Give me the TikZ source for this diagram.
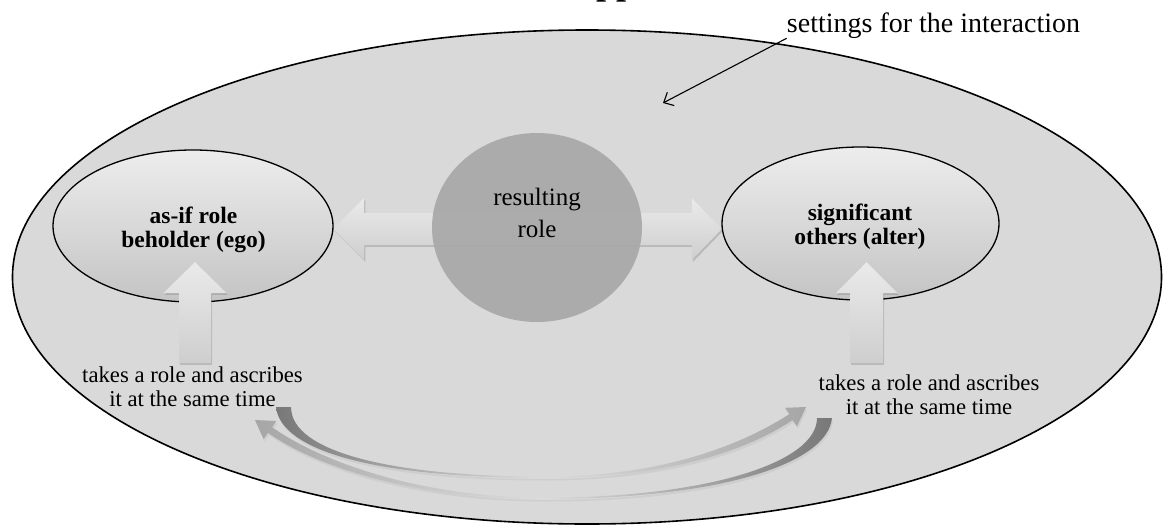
\documentclass[tikz,border=0pt]{standalone}
\usepackage{fontspec}
\setmainfont{Liberation Serif}
\usetikzlibrary{shapes.geometric,shadows,calc,arrows.meta}
\definecolor{bgfill}{HTML}{D9D9D9}
\definecolor{ellTop}{HTML}{EDEDED}
\definecolor{ellBot}{HTML}{C4C4C4}
\definecolor{roleFill}{HTML}{A8A8A8}
\definecolor{arrTop}{HTML}{EAEAEA}
\definecolor{arrBot}{HTML}{CECECE}
\definecolor{curveDark}{HTML}{787878}
\definecolor{curveLight}{HTML}{A6A6A6}
\definecolor{curveMid}{HTML}{DCDCDC}
\tikzset{
  outerell/.style={ellipse, draw=black, line width=1.6pt, fill=bgfill, inner sep=0pt},
  actorell/.style={ellipse, draw=black, line width=1.3pt, top color=ellTop, bottom color=ellBot, inner sep=0pt},
  rolecirc/.style={ellipse, fill=roleFill, fill opacity=0.92, inner sep=0pt},
  boldtxt/.style={font=\fontsize{23.5}{24.5}\selectfont\bfseries, align=center, inner sep=0pt},
  roletxt/.style={font=\fontsize{25}{32}\selectfont, align=center, inner sep=0pt},
  bottxt/.style={font=\fontsize{22.7}{24}\selectfont, align=center, inner sep=0pt},
  settxt/.style={font=\fontsize{28}{30}\selectfont, inner sep=0pt},
  blockarrow/.style={top color=arrTop, bottom color=arrBot, drop shadow={opacity=0.35, shadow xshift=1.2pt, shadow yshift=-1.8pt}},
  curvedarrow/.style={drop shadow={opacity=0.12, shadow xshift=1pt, shadow yshift=-2.5pt}},
  pointer/.style={line width=1.1pt, -{Straight Barb[length=8pt, width=15pt, line width=1.1pt]}}
}
\begin{document}
\begin{tikzpicture}[x=1pt,y=-1pt]
\useasboundingbox (0,0) rectangle (1165,525);
\fill[white] (0,0) rectangle (1165,525);

% cut-off title (only its descenders show)
\node[anchor=base west, font=\fontsize{36}{36}\selectfont\bfseries, inner sep=0pt] (title) at (596,-6) {pp};

% setting ellipse
\node[outerell, minimum width=1149pt, minimum height=494pt] (setting) at (587,277) {};

% actor ellipses (positions needed for arrows)
\path (193,226) coordinate (egoc);
\path (860.5,223.5) coordinate (alterc);
\node[ellipse, minimum width=280pt, minimum height=152pt, inner sep=0pt] (ego) at (egoc) {};
\node[ellipse, minimum width=277pt, minimum height=153pt, inner sep=0pt] (alter) at (alterc) {};

% horizontal double arrow
\coordinate (L) at ($(ego.east)+(0,3)$);
\coordinate (R) at ($(alter.west)+(0,5.5)$);
\path[blockarrow] (L) -- ++(31,-31) -- ++(0,15) -- ($(R)+(-30,-16)$) -- ++(0,-15) -- (R)
  -- ++(-30,31) -- ++(0,-15) -- ($(L)+(31,16)$) -- ++(0,15) -- cycle;

% resulting role circle
\node[rolecirc, minimum width=210pt, minimum height=189pt] (role) at (537,227.5) {};
\node[roletxt] (roletext) at (537,212.5) {resulting\\role};

% actor ellipses drawn
\node[actorell, minimum width=280pt, minimum height=152pt] at (egoc) {};
\node[actorell, minimum width=277pt, minimum height=153pt] at (alterc) {};
\node[boldtxt] (egotext) at (193.5,229.6) {as-if role\\beholder (ego)};
\node[boldtxt] (altertext) at (860,226.5) {significant\\others (alter)};

% vertical arrows
\coordinate (egobase) at (195,363);
\coordinate (alterbase) at (866.5,363);
\path[blockarrow] (egobase) ++(-16,0) -- ++(32,0) -- ++(0,-70) -- ++(15.5,0)
  -- ($(ego.south)+(2,-40)$) -- ($(egobase)+(-31.5,-70)$) -- ++(15.5,0) -- cycle;
\path[blockarrow] (alterbase) ++(-16.5,0) -- ++(33,0) -- ++(0,-70) -- ++(14.5,0)
  -- ($(alter.south)+(6,-38)$) -- ($(alterbase)+(-30.5,-70)$) -- ++(14,0) -- cycle;

% bottom texts
\node[bottxt] (egotakes) at (192.5,387.2) {takes a role and ascribes\\it at the same time};
\node[bottxt] (altertakes) at (929,395.2) {takes a role and ascribes\\it at the same time};

% curved arrow A (ego -> alter), dark tail left
\shade[curvedarrow, left color=curveDark, right color=curveLight, middle color=curveMid]
  (276,407) .. controls (281,452) and (380,478.0) .. (545,478.0)
  .. controls (663,478.0) and (745,452) .. (792.5,420)
  -- (797,426.2) -- (806,407) -- (785,407.8) -- (789.5,414)
  .. controls (740,446) and (660,476.6) .. (545,476.6)
  .. controls (392,476.6) and (291,452) .. (291,407) -- cycle;

% curved arrow B (alter -> ego), dark tail right
\shade[curvedarrow, left color=curveLight, right color=curveDark, middle color=curveMid]
  (832,418) .. controls (827,466) and (712,499.0) .. (545,499.0)
  .. controls (417,499.0) and (318,468) .. (268,432.8)
  -- (263.6,439) -- (255,420) -- (276.4,421) -- (272,427.2)
  .. controls (322,462) and (420,497.6) .. (545,497.6)
  .. controls (706,497.6) and (817,463) .. (817,418) -- cycle;

% settings label and pointer
\node[settxt, anchor=base] (settings) at (933.5,32) {settings for the interaction};
\coordinate (ptrend) at (663,103);
\draw[pointer] (settings.south west) -- (ptrend);
\end{tikzpicture}
\end{document}
